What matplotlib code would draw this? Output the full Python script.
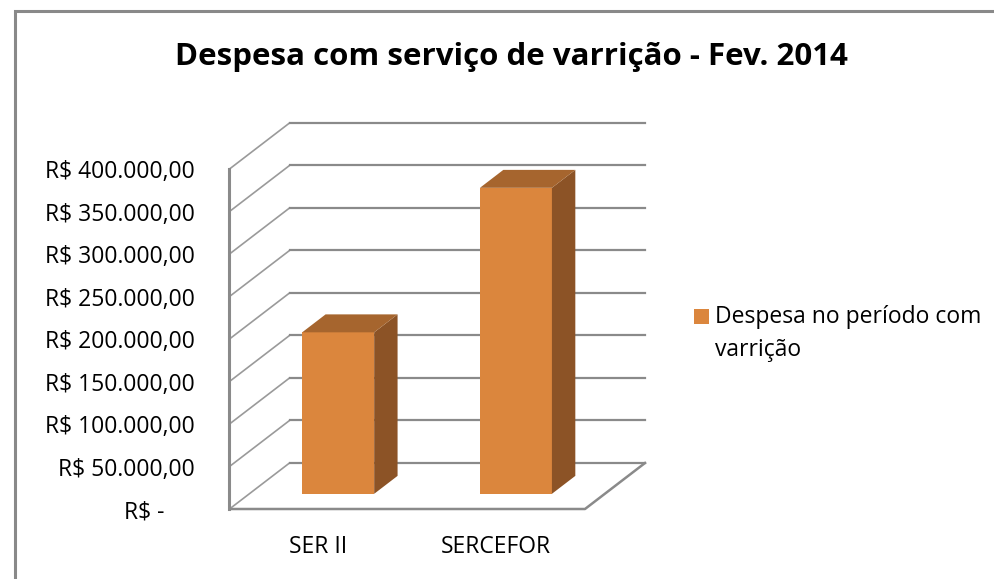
import numpy as np
import matplotlib.pyplot as plt
from matplotlib.patches import Polygon, Rectangle
from matplotlib.ticker import FuncFormatter

# ------------------------------------------------------------------------------
categories = ['SER II', 'SERCEFOR']
values = [190000, 360000]
yticks = np.arange(0, 400001, 50000)
series_name = 'Despesa no período com\nvarrição'
title = 'Despesa com serviço de varrição - Fev. 2014'

# pseudo-3d geometry (depth offset in data units)
ddx = 0.3376
ddy = 54118
d0, d1 = 0.33, 0.72
bw = 0.405

c_front = '#db863d'
c_top = '#a6652e'
c_side = '#8c5326'
c_grid = '#8a8a8a'

plt.rcParams['font.family'] = ['Open Sans', 'DejaVu Sans']
fs = 16.5


def money(v, pos=None):
    if v == 0:
        return 'R$ -' + '\u00a0' * 5
    s = '{:,.2f}'.format(v).replace(',', 'X').replace('.', ',').replace('X', '.')
    return 'R$ ' + s


fig = plt.figure(figsize=(9.94, 5.79), dpi=100)
ax = fig.add_axes([229.5 / 994, 70 / 579, 415.5 / 994, 386 / 579])
x0, x1 = -0.5, len(categories) - 0.5
ymax = yticks[-1]
ax.set_xlim(x0, x1 + ddx)
ax.set_ylim(0, ymax + ddy)
for s in ax.spines.values():
    s.set_visible(False)

# walls / gridlines
for t in yticks:
    ax.plot([x0, x0 + ddx], [t, t + ddy], color='#9a9a9a', lw=1.2,
            clip_on=False, zorder=1)
    ax.plot([x0 + ddx, x1 + ddx], [t + ddy, t + ddy], color=c_grid, lw=1.6,
            clip_on=False, zorder=1)
ax.plot([x0, x0], [0, ymax], color=c_grid, lw=2.2, clip_on=False, zorder=2)
ax.plot([x0, x1, x1 + ddx], [0, 0, ddy], color=c_grid, lw=1.8,
        clip_on=False, zorder=2)

# bars
xs = np.arange(len(categories))
xf = xs + d0 * ddx
ax.bar(xf, values, width=bw, bottom=d0 * ddy, color=c_front, zorder=3)
for xc, v in zip(xf, values):
    xl, xr = xc - bw / 2, xc + bw / 2
    b0, b1 = d0 * ddy, d0 * ddy + (d1 - d0) * ddy
    sx = (d1 - d0) * ddx
    side = [(xr, b0), (xr + sx, b1), (xr + sx, b1 + v), (xr, b0 + v)]
    top = [(xl, b0 + v), (xr, b0 + v), (xr + sx, b1 + v), (xl + sx, b1 + v)]
    ax.add_patch(Polygon(side, closed=True, fc=c_side, ec='none', zorder=3))
    ax.add_patch(Polygon(top, closed=True, fc=c_top, ec='none', zorder=3))

ax.set_yticks(yticks)
ax.yaxis.set_major_formatter(FuncFormatter(money))
ax.tick_params(axis='y', length=0, pad=25, labelsize=fs)
ax.set_xticks(xs, categories)
ax.tick_params(axis='x', length=0, pad=19, labelsize=fs)

# legend
fig.add_artist(Rectangle((694 / 994, 1 - 324 / 579), 15 / 994, 15 / 579,
                         transform=fig.transFigure, fc=c_front, ec='none'))
fig.text(715 / 994, 1 - 305 / 579, series_name, fontsize=fs, ha='left',
         va='top', linespacing=1.5)

fig.text(511.5 / 994, 1 - 57 / 579, title, fontsize=22.5, fontweight='bold',
         ha='center', va='center')

# chart border
fig.add_artist(Rectangle((14.5 / 994, -0.1), 2, 1.1 - 10.5 / 579,
                         transform=fig.transFigure, fill=False, ec='#898989',
                         lw=2.2))

plt.savefig('out.png', dpi=100)
